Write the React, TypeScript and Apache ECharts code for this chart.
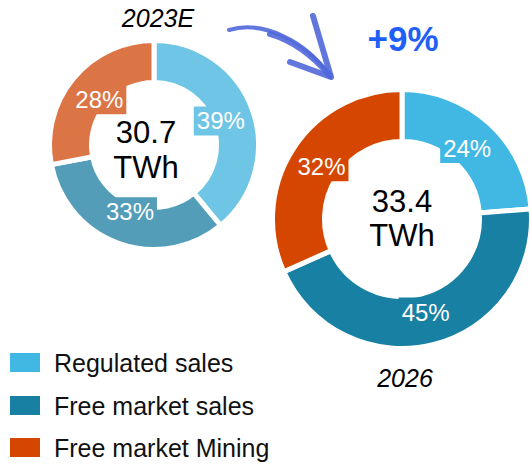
import React, { useEffect, useRef } from "react";
import * as echarts from "echarts";

const categories = ["Regulated sales", "Free market sales", "Free market Mining"];
const share2023 = [39, 33, 28];
const share2026 = [24, 45, 32];
const colors2023 = ["#6FC5E5", "#539DB8", "#DC7545"];
const colors2026 = ["#41B8E4", "#1780A3", "#D54700"];
const year2023 = "2023E";
const year2026 = "2026";
const total2023 = "30.7";
const total2026 = "33.4";
const unit = "TWh";
const growth = "+9%";

const FONT = "'Liberation Sans', Arial, sans-serif";

function ringData(values: number[], cols: string[]) {
  return values.map((v, i) => ({
    name: categories[i],
    value: v,
    itemStyle: { color: cols[i] },
  }));
}

function labelData(values: number[], cols: string[]) {
  return values.map((v, i) => ({
    name: categories[i],
    value: v,
    itemStyle: { color: "rgba(0,0,0,0)" },
    label: { backgroundColor: cols[i] },
  }));
}

export default function App() {
  const ref = useRef<HTMLDivElement>(null);
  useEffect(() => {
    if (!ref.current) return;
    const chart = echarts.init(ref.current, undefined, { renderer: "svg" });
    const ringCommon = {
      type: "pie",
      startAngle: 90,
      clockwise: true,
      silent: true,
      avoidLabelOverlap: false,
      label: { show: false },
      labelLine: { show: false },
      itemStyle: { borderColor: "#ffffff", borderWidth: 5 },
      emphasis: { disabled: true },
    };
    const labelCommon = {
      type: "pie",
      startAngle: 90,
      clockwise: true,
      silent: true,
      avoidLabelOverlap: false,
      labelLine: { show: false },
      emphasis: { disabled: true },
      label: {
        show: true,
        position: "inside",
        rotate: 0,
        formatter: "{c}%",
        color: "#ffffff",
        fontFamily: FONT,
        fontSize: 24,
        padding: [3, 3, 2, 3],
      },
      z: 5,
    };
    const legendTops = [345, 388, 430];
    const legends = categories.map((c, i) => ({
      orient: "vertical",
      left: 3,
      top: legendTops[i],
      icon: "rect",
      itemWidth: 32,
      itemHeight: 21,
      selectedMode: false,
      data: [{ name: c, itemStyle: { color: colors2026[i] } }],
      textStyle: {
        fontFamily: FONT,
        fontSize: 25,
        color: "#111111",
        padding: [0, 0, 0, 8],
      },
    }));
    chart.setOption({
      animation: false,
      backgroundColor: "#ffffff",
      legend: legends,
      series: [
        {
          ...ringCommon,
          name: year2026,
          center: [402, 219],
          radius: [77.5, 129.5],
          data: ringData(share2026, colors2026),
        },
        {
          ...ringCommon,
          name: year2023,
          center: [154, 145],
          radius: [62.5, 104.5],
          data: ringData(share2023, colors2023),
        },
        {
          ...labelCommon,
          name: "labels2023",
          center: [154, 145],
          radius: [0, 136],
          data: labelData(share2023, colors2023),
        },
        {
          ...labelCommon,
          name: "labels2026",
          center: [402, 219],
          radius: [0, 186],
          data: labelData(share2026, colors2026),
        },
      ],
      graphic: [
        {
          type: "text",
          x: 146,
          y: 150,
          style: {
            text: total2023 + "\n" + unit,
            fontFamily: FONT,
            fontSize: 31,
            lineHeight: 35,
            fill: "#000000",
            align: "center",
            verticalAlign: "middle",
          },
        },
        {
          type: "text",
          x: 402,
          y: 218,
          style: {
            text: total2026 + "\n" + unit,
            fontFamily: FONT,
            fontSize: 31,
            lineHeight: 34,
            fill: "#000000",
            align: "center",
            verticalAlign: "middle",
          },
        },
        {
          type: "text",
          x: 158,
          y: 18,
          style: {
            text: year2023,
            fontFamily: FONT,
            fontStyle: "italic",
            fontSize: 25,
            fill: "#000000",
            align: "center",
            verticalAlign: "middle",
          },
        },
        {
          type: "text",
          x: 405,
          y: 378,
          style: {
            text: year2026,
            fontFamily: FONT,
            fontStyle: "italic",
            fontSize: 25,
            fill: "#000000",
            align: "center",
            verticalAlign: "middle",
          },
        },
        {
          type: "text",
          x: 403,
          y: 38,
          style: {
            text: growth,
            fontFamily: FONT,
            fontWeight: "bold",
            fontSize: 35,
            fill: "#1F5FF8",
            align: "center",
            verticalAlign: "middle",
          },
        },
        {
          type: "bezierCurve",
          shape: { x1: 229, y1: 30, cpx1: 262, cpy1: 20, cpx2: 305, cpy2: 40, x2: 330, y2: 76 },
          style: { stroke: "#5068DA", lineWidth: 4, fill: "none", lineCap: "round", opacity: 0.9 },
        },
        {
          type: "bezierCurve",
          shape: { x1: 270, y1: 34, cpx1: 290, cpy1: 40, cpx2: 310, cpy2: 52, x2: 330, y2: 76 },
          style: { stroke: "#5068DA", lineWidth: 6, fill: "none", lineCap: "round", opacity: 0.9 },
        },
        {
          type: "polyline",
          shape: { points: [[313, 16], [331, 77], [290, 62]] },
          style: { stroke: "#5068DA", lineWidth: 6, fill: "none", lineCap: "round", lineJoin: "round", opacity: 0.9 },
        },
      ],
    });
    return () => chart.dispose();
  }, []);
  return (
    <div
      ref={ref}
      style={{ position: "fixed", left: 0, top: 0, width: 530, height: 464 }}
    />
  );
}
